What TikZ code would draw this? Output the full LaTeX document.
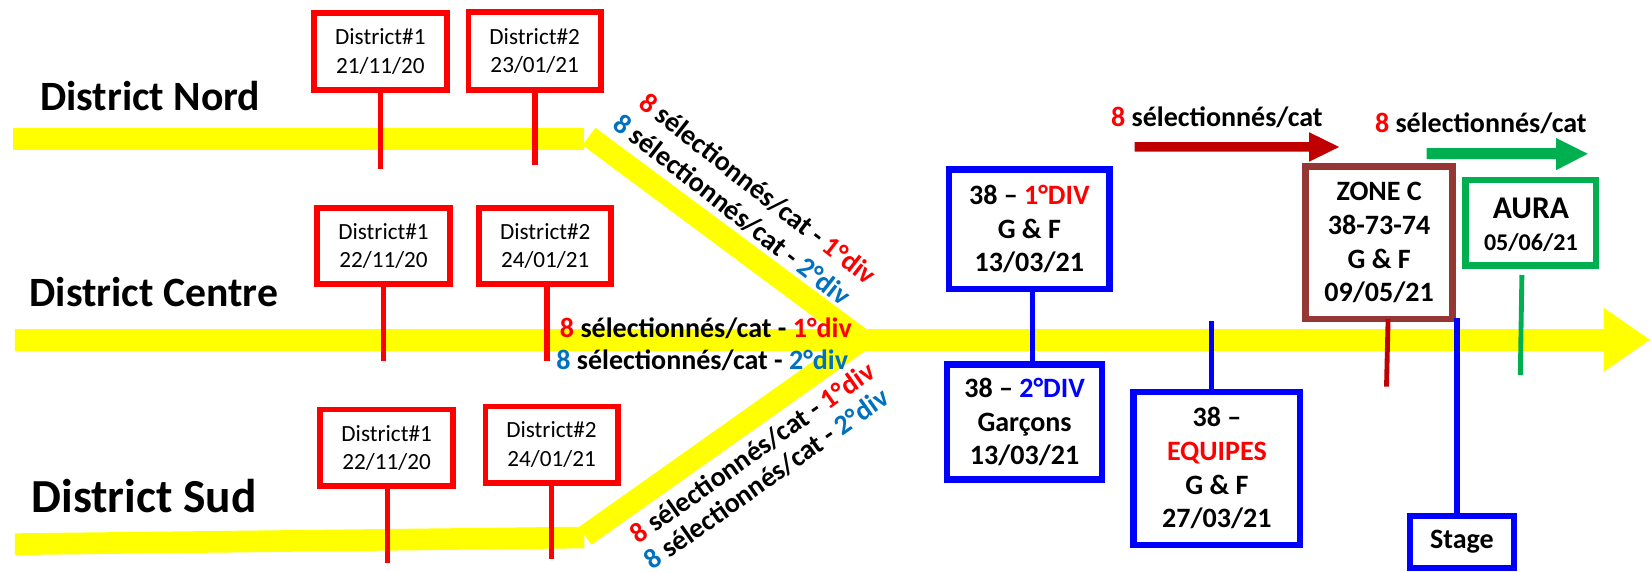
\documentclass[tikz,border=0pt]{standalone}
\usepackage{fontspec}
\setmainfont{Carlito}
\definecolor{yel}{HTML}{FFFF00}
\definecolor{rd}{HTML}{FF0000}
\definecolor{drd}{HTML}{C00000}
\definecolor{bl}{HTML}{0000FF}
\definecolor{lbl}{HTML}{0070C0}
\definecolor{brn}{HTML}{953735}
\definecolor{grn}{HTML}{00B050}
\begin{document}
\begin{tikzpicture}[x=0.5pt,y=-0.5pt,
  every node/.style={inner sep=0pt, outer sep=0pt},
  band/.style={yel, line width=10.3pt},
  rbox/.style={draw=rd, line width=2.75pt, fill=white, align=center, font=\fontsize{11}{13.5}\selectfont},
  bbox/.style={draw=bl, line width=3pt, fill=white, align=center, font=\bfseries\fontsize{13.3}{16}\selectfont},
  brbox/.style={draw=brn, line width=3.2pt, fill=white, align=center, font=\bfseries\fontsize{13.3}{16}\selectfont},
  gbox/.style={draw=grn, line width=3pt, fill=white},
  rstem/.style={draw=rd, line width=2.6pt},
  bstem/.style={draw=bl, line width=2.7pt},
  dstem/.style={draw=drd, line width=2.3pt},
  gstem/.style={draw=grn, line width=2.3pt},
  dist/.style={font=\bfseries\fontsize{19.8}{22}\selectfont, anchor=base west},
  lab/.style={font=\bfseries\fontsize{13.3}{16}\selectfont}
]
\useasboundingbox (0,0) rectangle (1568,542);

% yellow bands
\fill[yel] (12.7,121.8) rectangle (554.7,142.4);
\draw[band] (559,129.5) -- (818,322);
\fill[yel] (14.2,506.2) -- (554.7,499.9) -- (554.7,520.4) -- (14.2,526.8) -- cycle;
\draw[band] (555.4,508.6) -- (819,322);
\fill[yel] (14,312.3) -- (1522,312.3) -- (1522,292) -- (1566,322.5) -- (1522,353) -- (1522,333) -- (14,333) -- cycle;

% block arrows
\fill[drd] (1077,135) -- (1242.5,135) -- (1242.5,125.5) -- (1271,139.5) -- (1242.5,153.5) -- (1242.5,144) -- (1077,144) -- cycle;
\fill[grn] (1354,140.5) -- (1477,140.5) -- (1477,131) -- (1507,146) -- (1477,161.5) -- (1477,151) -- (1354,151) -- cycle;

% district labels
\node[dist] (nord) at (38,104.5) {District Nord};
\node[dist] (centre) at (28,291) {District Centre};
\node[dist, font=\bfseries\fontsize{22.5}{25}\selectfont] (sud) at (30,486) {District Sud};

% stem end points
\coordinate (n1e) at (361,160);
\coordinate (n2e) at (508,157);
\coordinate (c1e) at (364,343);
\coordinate (c2e) at (519,343);
\coordinate (s1e) at (368,534);
\coordinate (s2e) at (523.5,531);

% red boxes
\node[rbox, minimum width=63.25pt, minimum height=36.5pt] (n1) at (361,48.75) {District\#1\\21/11/20};
\node[rbox, minimum width=62.75pt, minimum height=36.75pt] (n2) at (507.5,48.5) {District\#2\\23/01/21};
\node[rbox, minimum width=63.25pt, minimum height=35.75pt] (c1) at (364,233.5) {District\#1\\22/11/20};
\node[rbox, minimum width=62.75pt, minimum height=35.75pt] (c2) at (517.5,233.5) {District\#2\\24/01/21};
\node[rbox, minimum width=63.25pt, minimum height=36.25pt] (s1) at (367,425) {District\#1\\22/11/20};
\node[rbox, minimum width=62.75pt, minimum height=36.25pt] (s2) at (523.5,422) {District\#2\\24/01/21};

% red stems
\draw[rstem] (n1e |- n1.south) -- (n1e);
\draw[rstem] (n2e |- n2.south) -- (n2e);
\draw[rstem] (c1e |- c1.south) -- (c1e);
\draw[rstem] (c2e |- c2.south) -- (c2e);
\draw[rstem] (s1e |- s1.south) -- (s1e);
\draw[rstem] (s2e |- s2.south) -- (s2e);

% blue / brown / green boxes
\node[bbox, minimum width=76pt, minimum height=56.5pt] (b1) at (977,217.5) {38 -- \textcolor{rd}{1°DIV}\\G \& F\\13/03/21};
\node[bbox, minimum width=73.5pt, minimum height=54.5pt] (b2) at (972.5,400.5) {38 -- \textcolor{bl}{2°DIV}\\Garçons\\13/03/21};
\node[bbox, minimum width=79pt, minimum height=72.5pt] (b3) at (1155,444.5) {38 --\\\textcolor{rd}{EQUIPES}\\G \& F\\27/03/21};
\node[bbox, minimum width=49.5pt, minimum height=24.5pt] (stage) at (1387.5,514.5) {Stage};
\node[brbox, minimum width=69.8pt, minimum height=72.3pt] (zone) at (1309,230.5) {ZONE C\\38-73-74\\G \& F\\09/05/21};
\node[gbox, minimum width=62pt, minimum height=40.5pt] (aura) at (1453,211.5) {};
\node[font=\bfseries\fontsize{15}{18}\selectfont] (auraT) at (1453,198) {AURA};
\node[font=\bfseries\fontsize{11.4}{14}\selectfont] (auraD) at (1453,230) {05/06/21};

% stems of right part
\coordinate (b1s) at (980,300);
\draw[bstem] (b1s |- b1.south) -- (b1s |- b2.north);
\coordinate (b3t) at (1150,304.5);
\draw[bstem] (b3t) -- (b3t |- b3.north);
\coordinate (stt) at (1383,302);
\draw[bstem] (stt) -- (stt |- stage.north);
\coordinate (zt) at (1317.5,306);
\coordinate (zb) at (1316,367);
\draw[dstem] (zt |- zone.south) -- (zb);
\coordinate (at1) at (1444.5,261);
\coordinate (at2) at (1443,356);
\draw[gstem] (at1) -- (at2);

% selection labels
\node[lab, anchor=base] (l1) at (1155,120.5) {\textcolor{rd}{8} sélectionnés/cat};
\node[lab, anchor=base] (l2) at (1405.5,126) {\textcolor{rd}{8} sélectionnés/cat};

\node[lab, rotate=-38] (u1) at (719.4,179.3) {\textcolor{rd}{8} sélectionnés/cat - \textcolor{rd}{1°div}};
\node[lab, rotate=-38] (u2) at (695,199) {\textcolor{lbl}{8} sélectionnés/cat - \textcolor{lbl}{2°div}};
\node[lab] (m1) at (670,311.5) {\textcolor{rd}{8} sélectionnés/cat - \textcolor{rd}{1°div}};
\node[lab] (m2) at (666.5,341.7) {\textcolor{lbl}{8} sélectionnés/cat - \textcolor{lbl}{2°div}};
\node[lab, rotate=35.3] (d1) at (714.2,429.9) {\textcolor{rd}{8} sélectionnés/cat - \textcolor{rd}{1°div}};
\node[lab, rotate=35.3] (d2) at (727.7,454.6) {\textcolor{lbl}{8} sélectionnés/cat - \textcolor{lbl}{2°div}};
\end{tikzpicture}
\end{document}
